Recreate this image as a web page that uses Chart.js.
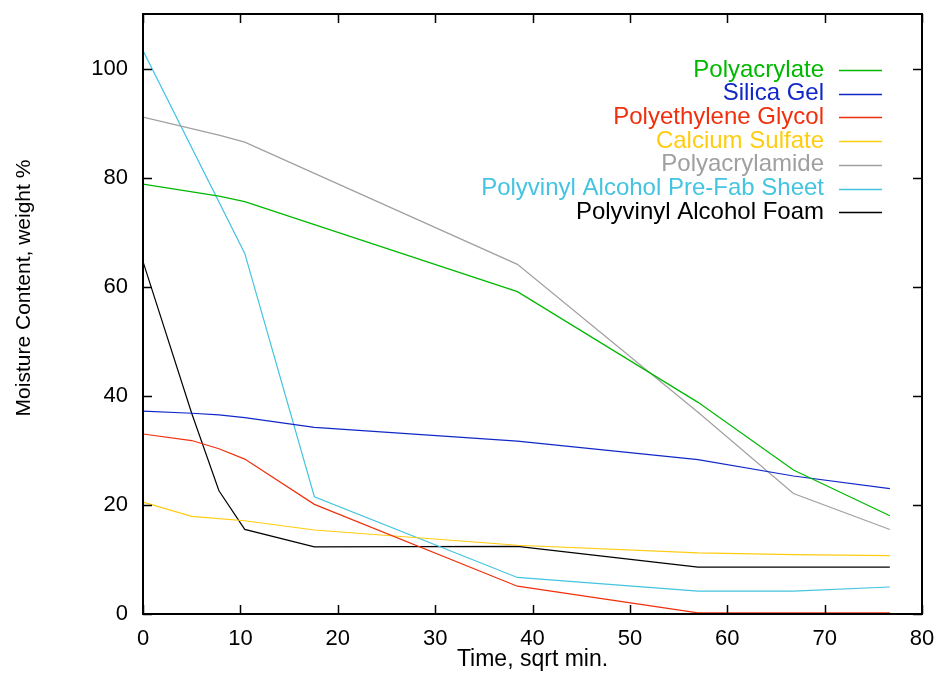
<!DOCTYPE html>
<html lang="en">
<head>
<meta charset="UTF-8">
<title>Moisture Content vs Time</title>
<style>
  body {
    margin: 0;
    background: #fff;
  }
  #wrap {
    width: 938px;
    height: 675px;
  }
</style>
<script src="https://cdn.jsdelivr.net/npm/chart.js"></script>
</head>
<body>

<div id="wrap"><canvas id="moistureChart" width="938" height="675"></canvas></div>

<script>
// sample times (sqrt of minutes), shared by all materials
var times = [0, 5, 7.8, 10.45, 17.6, 38.45, 57, 66.8, 76.7];

// moisture content, weight % (null = no reading at that time)
var polyacrylate   = [78.8, null, 76.6, 75.6, null, 59.1, 38.8, 26.4, 18.0];
var silicaGel      = [37.2, 36.8, 36.5, 36.0, 34.2, 31.7, 28.3, 25.3, 23.0];
var peg            = [33.0, 31.8, 30.3, 28.4, 20.1, 5.1, 0.2, 0.2, 0.2];
var calciumSulfate = [20.5, 17.9, null, 17.1, 15.4, 12.6, 11.2, 10.9, 10.7];
var polyacrylamide = [91.1, null, 87.8, 86.5, null, 64.1, 37.0, 22.1, 15.5];
var pvaSheet       = [103.3, null, null, 66.1, 21.5, 6.7, 4.2, 4.2, 4.95];
var pvaFoam        = [64.6, 36.8, 22.6, 15.5, 12.3, 12.4, 8.6, 8.6, 8.6];

var xTicks = [0, 10, 20, 30, 40, 50, 60, 70, 80];
var yTicks = [0, 20, 40, 60, 80, 100];

var FONT = '"Liberation Sans", Arial, Helvetica, sans-serif';

function points(ys) {
  var out = [];
  for (var i = 0; i < times.length; i++) {
    if (ys[i] !== null) out.push({ x: times[i], y: ys[i] });
  }
  return out;
}

function series(label, ys, color) {
  return {
    label: label,
    data: points(ys),
    borderColor: color,
    backgroundColor: color,
    borderWidth: 1.2,
    pointRadius: 0,
    showLine: true,
    fill: false,
    tension: 0
  };
}

// frame with inward ticks on all four sides, y title and the legend
var framePlugin = {
  id: 'frame',
  afterDraw: function(chart) {
    var ctx = chart.ctx;
    var a = chart.chartArea;
    var xs = chart.scales.x, ys = chart.scales.y;
    var tl = 9;
    ctx.save();
    ctx.strokeStyle = '#000';
    ctx.lineWidth = 1.5;
    ctx.beginPath();
    xTicks.forEach(function(v) {
      var px = Math.round(xs.getPixelForValue(v)) + 0.5;
      ctx.moveTo(px, a.bottom); ctx.lineTo(px, a.bottom - tl);
      ctx.moveTo(px, a.top); ctx.lineTo(px, a.top + tl);
    });
    yTicks.forEach(function(v) {
      var py = Math.round(ys.getPixelForValue(v)) + 0.5;
      ctx.moveTo(a.left, py); ctx.lineTo(a.left + tl, py);
      ctx.moveTo(a.right, py); ctx.lineTo(a.right - tl, py);
    });
    ctx.stroke();
    ctx.lineWidth = 2;
    ctx.strokeRect(a.left, a.top, a.right - a.left, a.bottom - a.top);

    // y axis title
    ctx.fillStyle = '#000';
    ctx.font = '21px ' + FONT;
    ctx.textAlign = 'center';
    ctx.textBaseline = 'middle';
    ctx.translate(24, 288);
    ctx.rotate(-Math.PI / 2);
    ctx.fillText('Moisture Content, weight %', 0, 0);
    ctx.restore();

    // legend: right-aligned coloured text, line sample to the right
    ctx.save();
    ctx.font = '24px ' + FONT;
    ctx.textAlign = 'right';
    ctx.textBaseline = 'middle';
    chart.data.datasets.forEach(function(ds, i) {
      var y = 70 + i * 23.7;
      ctx.fillStyle = ds.borderColor;
      ctx.fillText(ds.label, 824, y);
      ctx.strokeStyle = ds.borderColor;
      ctx.lineWidth = 1.3;
      ctx.beginPath();
      ctx.moveTo(839, Math.round(y) + 0.5);
      ctx.lineTo(882, Math.round(y) + 0.5);
      ctx.stroke();
    });
    ctx.restore();
  }
};

var chart = new Chart(document.getElementById('moistureChart'), {
  type: 'scatter',
  data: {
    datasets: [
      series('Polyacrylate', polyacrylate, '#00b800'),
      series('Silica Gel', silicaGel, '#1028c8'),
      series('Polyethylene Glycol', peg, '#f0300c'),
      series('Calcium Sulfate', calciumSulfate, '#ffcc10'),
      series('Polyacrylamide', polyacrylamide, '#a0a0a0'),
      series('Polyvinyl Alcohol Pre-Fab Sheet', pvaSheet, '#44c4e0'),
      series('Polyvinyl Alcohol Foam', pvaFoam, '#000000')
    ]
  },
  options: {
    responsive: false,
    animation: false,
    layout: { padding: { top: 14, right: 16, left: 0, bottom: 0 } },
    plugins: {
      legend: { display: false },
      tooltip: { enabled: false }
    },
    scales: {
      x: {
        type: 'linear',
        min: 0,
        max: 80,
        grid: { display: false, drawTicks: false },
        border: { display: false },
        afterBuildTicks: function(s) { s.ticks = xTicks.map(function(v) { return { value: v }; }); },
        afterFit: function(s) { s.height = 61; s.paddingLeft = 0; s.paddingRight = 0; },
        ticks: { color: '#000', font: { size: 22, family: FONT }, padding: 12, maxRotation: 0 },
        title: {
          display: true,
          text: 'Time, sqrt min.',
          color: '#000',
          font: { size: 23, family: FONT },
          padding: { top: 0, bottom: 2 }
        }
      },
      y: {
        min: 0,
        max: 110,
        grid: { display: false, drawTicks: false },
        border: { display: false },
        afterBuildTicks: function(s) { s.ticks = yTicks.map(function(v) { return { value: v }; }); },
        afterFit: function(s) { s.width = 143; s.paddingTop = 0; s.paddingBottom = 0; },
        ticks: { color: '#000', font: { size: 22, family: FONT }, padding: 15 }
      }
    }
  },
  plugins: [framePlugin]
});
</script>

</body>
</html>
